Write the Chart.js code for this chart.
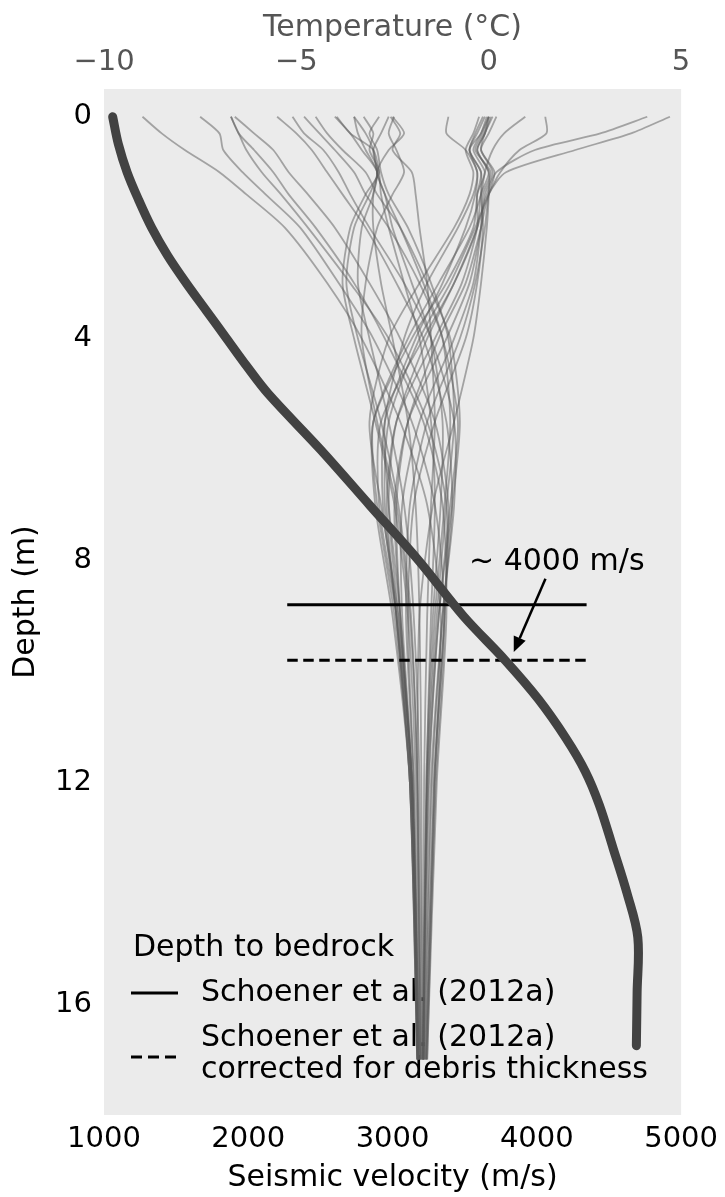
<!DOCTYPE html>
<html>
<head>
<meta charset="utf-8">
<script src="https://cdn.jsdelivr.net/npm/chart.js@4/dist/chart.umd.min.js"></script>
<style>
  html, body { margin: 0; padding: 0; background: #ffffff; }
  #wrap { width: 725px; height: 1197px; }
</style>
</head>
<body>
<div id="wrap"><canvas id="profileChart" width="725" height="1197"></canvas></div>
<script>
// Seismic velocity with depth (thick curve, bottom axis)
const velDepths = [0, 0.5, 1.0, 1.5, 2.0, 2.5, 3.0, 3.5, 4.0, 4.5, 5.0, 6.0, 7.0, 8.0, 9.0, 9.8, 10.5, 11.2, 11.8, 12.4, 13.2, 14.0, 14.8, 15.8, 16.75];
const velValues = [1060, 1100, 1160, 1240, 1330, 1440, 1570, 1710, 1850, 1990, 2140, 2500, 2840, 3180, 3490, 3780, 4010, 4200, 4335, 4432, 4530, 4625, 4700, 4695, 4690];

// Depth to bedrock estimates (m) and the velocity span they are drawn over
const bedrockSolid = 8.8;
const bedrockDashed = 9.8;
const bedrockSpan = [2270, 4345];

// Borehole temperature profiles (°C, top axis), one row per profile
const tempDepths = [0, 0.3, 0.6, 1.0, 1.4, 2.0, 3.0, 4.0, 5.5, 7.0, 9.0, 12.0, 17.0];
const tempProfiles = [
  [-9.0, -8.5, -7.9, -7.0, -6.3, -5.3, -4.2, -3.3, -2.3, -1.6, -1.25, -1.4, -1.6],
  [-7.5, -7.0, -6.9, -6.4, -5.8, -4.9, -3.9, -3.0, -2.0, -1.4, -1.15, -1.38, -1.62],
  [-6.7, -6.5, -6.1, -5.6, -5.2, -4.5, -3.5, -2.7, -1.7, -1.2, -1.1, -1.35, -1.6],
  [-6.6, -6.1, -5.6, -5.2, -4.7, -4.0, -3.1, -2.3, -1.4, -1.05, -1.15, -1.42, -1.63],
  [-5.5, -5.0, -4.6, -4.2, -3.8, -3.2, -2.4, -1.7, -1.1, -0.95, -1.2, -1.47, -1.66],
  [-5.1, -4.8, -4.3, -3.9, -3.6, -3.1, -2.2, -1.5, -0.9, -0.9, -1.2, -1.5, -1.67],
  [-4.8, -4.4, -4.0, -3.5, -3.2, -2.6, -1.8, -1.2, -0.8, -1.0, -1.3, -1.55, -1.69],
  [-4.5, -4.2, -3.8, -3.2, -2.9, -2.3, -1.6, -1.0, -0.75, -0.95, -1.3, -1.57, -1.7],
  [-4.0, -3.6, -3.3, -2.9, -3.1, -3.5, -3.7, -3.4, -2.8, -2.35, -2.02, -1.86, -1.76],
  [-3.5, -3.2, -3.0, -2.9, -2.7, -2.3, -1.7, -1.2, -1.0, -1.15, -1.4, -1.6, -1.7],
  [-3.25, -3.0, -3.1, -2.85, -3.2, -3.6, -3.8, -3.5, -2.95, -2.45, -2.1, -1.9, -1.78],
  [-2.85, -3.1, -2.9, -2.8, -2.6, -2.1, -1.5, -1.05, -0.9, -1.1, -1.35, -1.6, -1.7],
  [-2.6, -2.8, -3.0, -2.9, -3.0, -3.3, -3.4, -3.1, -2.6, -2.2, -1.95, -1.8, -1.73],
  [-2.5, -2.2, -2.6, -2.9, -2.7, -2.5, -2.0, -1.5, -1.2, -1.25, -1.45, -1.62, -1.72],
  [-1.05, -1.1, -0.6, -0.3, -0.4, -0.8, -1.6, -2.2, -2.7, -2.6, -2.3, -2.0, -1.8],
  [-0.25, -0.4, -0.6, -0.4, -0.5, -0.9, -1.8, -2.6, -3.1, -2.8, -2.35, -2.0, -1.82],
  [0.0, -0.2, -0.5, -0.2, -0.3, -0.4, -1.1, -2.0, -3.0, -2.95, -2.5, -2.05, -1.85],
  [0.05, -0.1, -0.3, 0.0, -0.2, -0.3, -0.9, -1.7, -2.8, -2.85, -2.4, -2.0, -1.84],
  [-0.05, -0.2, -0.4, -0.1, -0.3, -0.3, -0.7, -1.4, -2.4, -2.65, -2.4, -2.05, -1.86],
  [0.1, -0.1, -0.2, 0.1, -0.1, -0.2, -0.5, -1.1, -2.1, -2.45, -2.3, -2.0, -1.85],
  [0.0, -0.15, -0.35, 0.05, -0.15, -0.2, -0.4, -0.9, -1.8, -2.25, -2.25, -1.98, -1.83],
  [-0.1, -0.3, -0.5, -0.2, -0.2, -0.15, -0.3, -0.6, -1.4, -1.95, -2.1, -1.95, -1.8],
  [0.0, -0.1, -0.3, 0.0, 0.0, -0.05, -0.2, -0.4, -0.9, -1.45, -1.8, -1.85, -1.78],
  [0.95, 0.4, 0.1, -0.1, -0.2, -0.5, -1.3, -2.1, -3.0, -2.9, -2.45, -2.05, -1.85],
  [1.47, 1.5, 0.8, 0.3, 0.0, -0.35, -1.0, -1.8, -2.6, -2.7, -2.4, -2.05, -1.86],
  [4.12, 2.9, 1.2, 0.2, -0.05, -0.3, -0.9, -1.6, -2.4, -2.6, -2.35, -2.0, -1.84],
  [4.71, 3.7, 2.25, 0.45, 0.0, -0.2, -0.6, -1.3, -2.1, -2.4, -2.3, -2.0, -1.85],
  [-3.95, -3.6, -3.0, -2.85, -2.8, -2.6, -2.2, -1.8, -1.5, -1.4, -1.5, -1.62, -1.7],
  [-3.5, -3.4, -3.2, -2.9, -3.0, -3.0, -2.8, -2.5, -2.1, -1.9, -1.8, -1.75, -1.72],
  [-2.55, -2.3, -2.5, -2.0, -1.9, -1.8, -1.6, -1.5, -1.4, -1.5, -1.6, -1.68, -1.7],
  [-2.46, -2.6, -2.4, -2.2, -2.5, -2.9, -3.2, -3.3, -2.9, -2.4, -2.05, -1.85, -1.76],
  [0.2, 0.0, -0.2, 0.15, 0.0, -0.1, -0.35, -0.75, -1.6, -2.05, -2.15, -1.95, -1.82],
  [-0.15, -0.35, -0.5, -0.3, -0.35, -0.6, -1.2, -1.9, -2.7, -2.75, -2.4, -2.02, -1.84],
  [-6.7, -6.5, -6.3, -5.9, -5.4, -4.7, -3.6, -2.6, -1.6, -1.1, -1.15, -1.42, -1.63]
];

// Axis ticks
const velTicks = [1000, 2000, 3000, 4000, 5000];
const tempTicks = [-10, -5, 0, 5];
const depthTicks = [0, 4, 8, 12, 16];

const FONT = 'DejaVu Sans';
const toPoints = (depths, values) => depths.map((d, i) => ({ x: values[i], y: d }));
const signed = v => (v < 0 ? '\u2212' + Math.abs(v) : String(v));

// grey panel behind the plot
const panelBg = {
  id: 'panelBg',
  beforeDraw(chart) {
    const { ctx, chartArea: a } = chart;
    ctx.save();
    ctx.fillStyle = '#EBEBEB';
    ctx.fillRect(a.left, a.top, a.right - a.left, a.bottom - a.top);
    ctx.restore();
  }
};

// bedrock legend in the lower left of the panel
const bedrockLegend = {
  id: 'bedrockLegend',
  beforeDatasetsDraw(chart) {
    const { ctx, chartArea: a } = chart;
    const x0 = a.left + 27;
    const tx = a.left + 97;
    ctx.save();
    ctx.fillStyle = '#000';
    ctx.font = '30px "' + FONT + '"';
    ctx.textBaseline = 'middle';
    ctx.textAlign = 'left';
    ctx.fillText('Depth to bedrock', a.left + 29, a.bottom - 167);

    ctx.strokeStyle = '#000';
    ctx.lineWidth = 3;
    ctx.beginPath();
    ctx.moveTo(x0, a.bottom - 122);
    ctx.lineTo(x0 + 47, a.bottom - 122);
    ctx.stroke();
    ctx.fillText('Schoener et al. (2012a)', tx, a.bottom - 122);

    ctx.setLineDash([11, 6]);
    ctx.beginPath();
    ctx.moveTo(x0, a.bottom - 58);
    ctx.lineTo(x0 + 45, a.bottom - 58);
    ctx.stroke();
    ctx.setLineDash([]);
    ctx.fillText('Schoener et al. (2012a)', tx, a.bottom - 77);
    ctx.fillText('corrected for debris thickness', tx, a.bottom - 45);
    ctx.restore();
  }
};

// "~ 4000 m/s" note with an arrow to the corrected bedrock depth
const velocityNote = {
  id: 'velocityNote',
  afterDatasetsDraw(chart) {
    const { ctx } = chart;
    const sx = chart.scales.x, sy = chart.scales.y;
    const textX = sx.getPixelForValue(3530), textY = sy.getPixelForValue(8.03);
    const fromX = sx.getPixelForValue(4060), fromY = sy.getPixelForValue(8.33);
    const toX = sx.getPixelForValue(3840), toY = sy.getPixelForValue(9.65);
    ctx.save();
    ctx.fillStyle = '#000';
    ctx.font = '30px "' + FONT + '"';
    ctx.textBaseline = 'middle';
    ctx.textAlign = 'left';
    ctx.fillText('~ 4000 m/s', textX, textY);

    const ang = Math.atan2(toY - fromY, toX - fromX);
    const headLen = 15, headHalf = 6.5;
    const bx = toX - headLen * Math.cos(ang), by = toY - headLen * Math.sin(ang);
    ctx.strokeStyle = '#000';
    ctx.lineWidth = 2.5;
    ctx.beginPath();
    ctx.moveTo(fromX, fromY);
    ctx.lineTo(bx, by);
    ctx.stroke();
    ctx.beginPath();
    ctx.moveTo(toX, toY);
    ctx.lineTo(bx + headHalf * Math.sin(ang), by - headHalf * Math.cos(ang));
    ctx.lineTo(bx - headHalf * Math.sin(ang), by + headHalf * Math.cos(ang));
    ctx.closePath();
    ctx.fill();
    ctx.restore();
  }
};

const datasets = [
  {
    label: 'Seismic velocity',
    data: toPoints(velDepths, velValues),
    xAxisID: 'x', yAxisID: 'y',
    borderColor: '#424242',
    borderWidth: 9,
    borderCapStyle: 'round',
    borderJoinStyle: 'round',
    tension: 0.35,
    order: 0
  },
  {
    label: 'Schoener et al. (2012a)',
    data: [{ x: bedrockSpan[0], y: bedrockSolid }, { x: bedrockSpan[1], y: bedrockSolid }],
    xAxisID: 'x', yAxisID: 'y',
    borderColor: '#000',
    borderWidth: 3,
    order: 1
  },
  {
    label: 'corrected for debris thickness',
    data: [{ x: bedrockSpan[0], y: bedrockDashed }, { x: bedrockSpan[1], y: bedrockDashed }],
    xAxisID: 'x', yAxisID: 'y',
    borderColor: '#000',
    borderWidth: 3,
    borderDash: [10.5, 5.5],
    order: 1
  }
];

tempProfiles.forEach((row, i) => {
  datasets.push({
    label: 'profile ' + (i + 1),
    data: toPoints(tempDepths, row),
    xAxisID: 'xTemp', yAxisID: 'y',
    borderColor: 'rgba(90, 90, 90, 0.5)',
    borderWidth: 1.8,
    tension: 0.25,
    order: 2
  });
});

const tickFont = { family: FONT, size: 29 };
const titleFont = { family: FONT, size: 30 };

new Chart(document.getElementById('profileChart'), {
  type: 'scatter',
  data: { datasets },
  options: {
    responsive: false,
    devicePixelRatio: 1,
    animation: false,
    showLine: true,
    elements: { point: { radius: 0, hoverRadius: 0 } },
    layout: { padding: { left: 0, right: 42, top: 0, bottom: 0 } },
    plugins: {
      legend: { display: false },
      tooltip: { enabled: false }
    },
    events: [],
    scales: {
      x: {
        type: 'linear',
        position: 'bottom',
        min: 1000,
        max: 5000,
        grid: { display: false, drawTicks: false },
        border: { display: false },
        afterBuildTicks: s => { s.ticks = velTicks.map(v => ({ value: v })); },
        afterFit: s => { s.height = 82; },
        ticks: {
          color: '#000',
          font: tickFont,
          padding: 7,
          autoSkip: false,
          maxRotation: 0,
          callback: v => String(v)
        },
        title: {
          display: true,
          text: 'Seismic velocity (m/s)',
          color: '#000',
          font: titleFont,
          padding: { top: 0, bottom: 1 }
        }
      },
      xTemp: {
        type: 'linear',
        position: 'top',
        min: -10,
        max: 5,
        grid: { display: false, drawTicks: false },
        border: { display: false },
        afterBuildTicks: s => { s.ticks = tempTicks.map(v => ({ value: v })); },
        afterFit: s => { s.height = 89; },
        ticks: {
          color: '#555555',
          font: tickFont,
          padding: 9,
          autoSkip: false,
          maxRotation: 0,
          callback: v => signed(v)
        },
        title: {
          display: true,
          text: 'Temperature (°C)',
          color: '#555555',
          font: titleFont,
          padding: { top: 10, bottom: 0 }
        }
      },
      y: {
        type: 'linear',
        reverse: true,
        min: -0.5,
        max: 18,
        grid: { display: false, drawTicks: false },
        border: { display: false },
        afterBuildTicks: s => { s.ticks = depthTicks.map(v => ({ value: v })); },
        afterFit: s => { s.width = 104; },
        ticks: {
          color: '#000',
          font: tickFont,
          padding: 12,
          autoSkip: false,
          callback: v => String(v)
        },
        title: {
          display: true,
          text: 'Depth (m)',
          color: '#000',
          font: titleFont,
          padding: { top: 8, bottom: 0 }
        }
      }
    }
  },
  plugins: [panelBg, bedrockLegend, velocityNote]
});
</script>
</body>
</html>
